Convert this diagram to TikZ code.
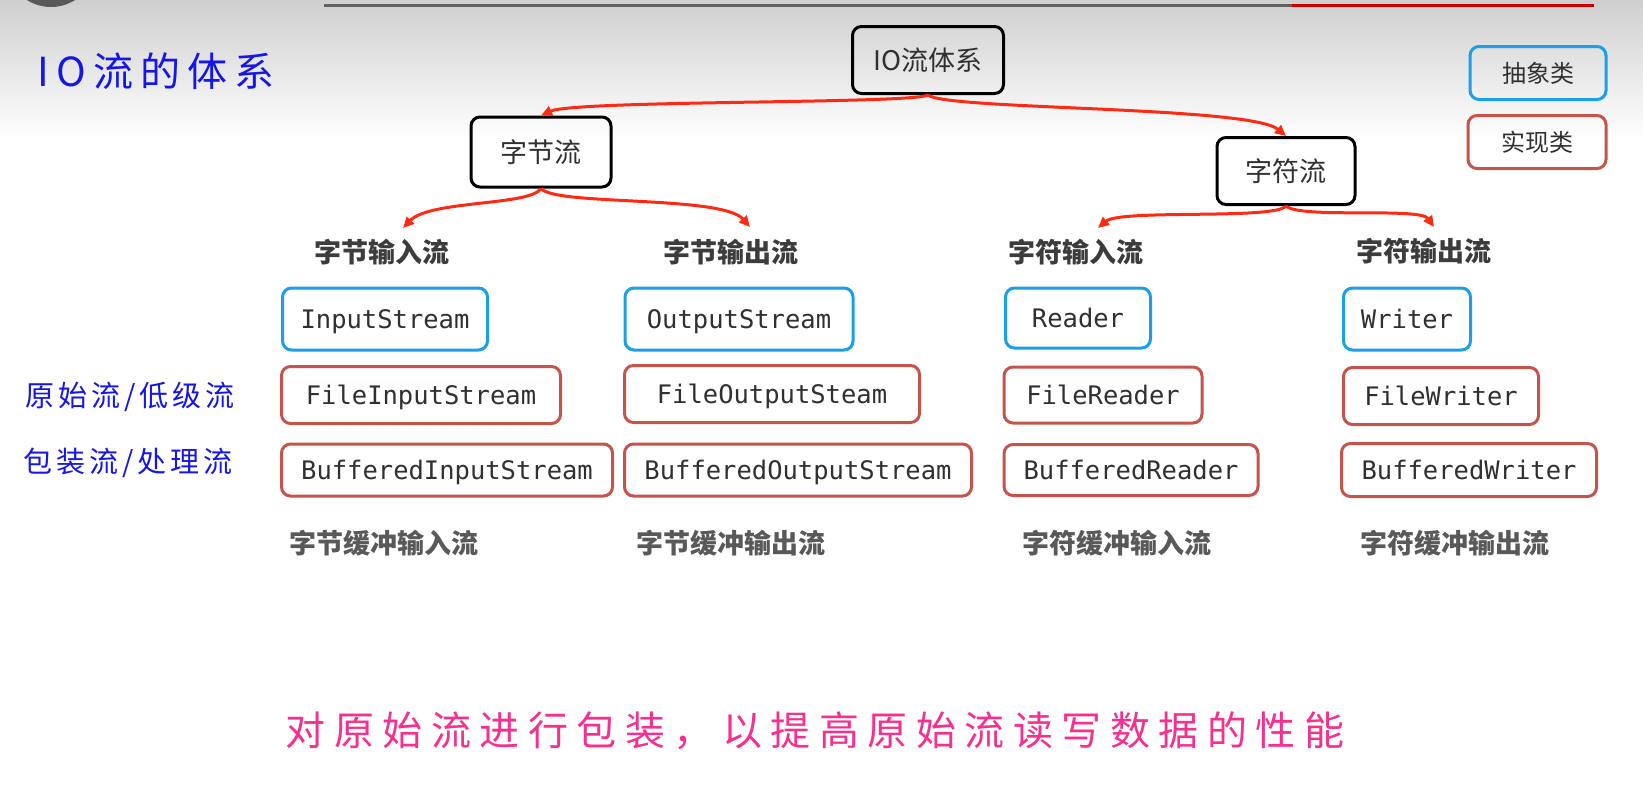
\documentclass[tikz,border=0pt]{standalone}
\usepackage{fontspec}
\usetikzlibrary{arrows.meta}
\newfontfamily\cjk{Noto Sans CJK SC}
\newfontfamily\mono{DejaVu Sans Mono}
\newcommand\setfs[1]{\fontsize{#1}{#1}\selectfont}
\makeatletter
\newcommand\spreadtext[2]{\@tfor\@ch:=#2\do{\@ch\hspace{#1}}\unskip}
\makeatother
\definecolor{absblue}{HTML}{1A9FE8}
\definecolor{implred}{HTML}{C5554C}
\definecolor{arrred}{HTML}{FF2A14}
\definecolor{txtgray}{HTML}{303030}
\definecolor{lblgray}{HTML}{3C3C3C}
\definecolor{hblue}{HTML}{1616E6}
\definecolor{hpink}{HTML}{F5308F}
\definecolor{topgray}{HTML}{CFCFCF}
\tikzset{
  boxbase/.style={line width=3pt, rounded corners=9pt, inner sep=0pt, align=center},
  blk/.style={boxbase, draw=black, font=\cjk\setfs{27}, text=txtgray},
  monobox/.style={boxbase, font=\mono\setfs{25.5}, text=txtgray, text height=19.5pt, text depth=1pt},
  abs/.style={monobox, draw=absblue},
  impl/.style={monobox, draw=implred},
  legendtxt/.style={font=\cjk\setfs{24}, text=txtgray},
  lbl/.style={font=\cjk\bfseries\setfs{27}, text=lblgray, inner sep=0pt},
  lbl2/.style={font=\cjk\bfseries\setfs{27}, text=lblgray!85!white, inner sep=0pt},
  hand/.style={font=\cjk\setfs{29}, text=hblue, inner sep=0pt},
  arr/.style={draw=arrred, line width=3pt, -{Triangle[length=11pt,width=10pt]}},
}
\begin{document}
\begin{tikzpicture}[x=1pt,y=-1pt]
\useasboundingbox (0,0) rectangle (1643,787);
\fill[white] (0,0) rectangle (1643,787);
\shade[top color=topgray, bottom color=white] (0,0) rectangle (1643,140);
% top decorations
\fill[black!65] (51,-38) circle (45);
\draw[line width=3pt, black!62] (324,5) -- (1292,5);
\draw[line width=3pt, red!80!black] (1292,5) -- (1594,5);

% title
\node[hand, font=\cjk\setfs{40}] (title) at (156,71) {\spreadtext{7pt}{IO流的体系}};

% legend
\node[boxbase, draw=absblue, legendtxt, minimum width=136, minimum height=53] (lgA) at (1538,73) {抽象类};
\node[boxbase, draw=implred, legendtxt, minimum width=138, minimum height=53] (lgI) at (1537,142) {实现类};

% hierarchy
\node[blk, minimum width=151, minimum height=67] (io) at (928,60) {IO流体系};
\node[blk, minimum width=140, minimum height=70] (bs) at (541,152) {字节流};
\node[blk, minimum width=138, minimum height=67] (cs) at (1286,171) {字符流};

\node[lbl] (bin) at (382,252) {字节输入流};
\node[lbl] (bout) at (731,252) {字节输出流};
\node[lbl] (cin) at (1076,252) {字符输入流};
\node[lbl] (cout) at (1424,251) {字符输出流};

\coordinate (tbin) at (403,228);
\coordinate (tbout) at (750,227);
\coordinate (tcin) at (1098,228);
\coordinate (tcout) at (1434,227);

\draw[arr] (io.south) .. controls (912,104) and (575,100) .. (bs.north);
\draw[arr] (io.south) .. controls (945,110) and (1250,106) .. (cs.north);
\draw[arr] (bs.south) .. controls (530,206) and (430,200) .. (tbin);
\draw[arr] (bs.south) .. controls (555,206) and (722,195) .. (tbout);
\draw[arr] (cs.south) .. controls (1275,220) and (1120,209) .. (tcin);
\draw[arr] (cs.south) .. controls (1300,219) and (1420,207) .. (tcout);

% row 1 abstract
\node[abs, minimum width=205, minimum height=62] (is) at (385,319) {InputStream};
\node[abs, minimum width=228, minimum height=62] (os) at (739,319) {OutputStream};
\node[abs, minimum width=145, minimum height=60] (rd) at (1078,318) {Reader};
\node[abs, minimum width=127, minimum height=62] (wr) at (1407,319) {Writer};

% row 2
\node[impl, minimum width=279, minimum height=57] (fis) at (421,395) {FileInputStream};
\node[impl, minimum width=295, minimum height=57] (fos) at (772,394) {FileOutputSteam};
\node[impl, minimum width=198, minimum height=56] (frd) at (1103,395) {FileReader};
\node[impl, minimum width=195, minimum height=57] (fwr) at (1441,396) {FileWriter};

% row 3
\node[impl, minimum width=331, minimum height=52] (bis) at (447,470) {BufferedInputStream};
\node[impl, minimum width=347, minimum height=52] (bos) at (798,470) {BufferedOutputStream};
\node[impl, minimum width=254, minimum height=51] (brd) at (1131,470) {BufferedReader};
\node[impl, minimum width=255, minimum height=53] (bwr) at (1469,470) {BufferedWriter};

% row 4 labels
\node[lbl2] (l1) at (384,543) {字节缓冲输入流};
\node[lbl2] (l2) at (731,543) {字节缓冲输出流};
\node[lbl2] (l3) at (1117,543) {字符缓冲输入流};
\node[lbl2] (l4) at (1455,543) {字符缓冲输出流};

% left annotations
\node[hand] (raw) at (130,397) {\spreadtext{4pt}{原始流/低级流}};
\node[hand] (wrap) at (128,463) {\spreadtext{4pt}{包装流/处理流}};

% bottom note
\node[hand, text=hpink, font=\cjk\setfs{40}] (note) at (815,731) {\spreadtext{8.5pt}{对原始流进行包装，以提高原始流读写数据的性能}};
\end{tikzpicture}
\end{document}
